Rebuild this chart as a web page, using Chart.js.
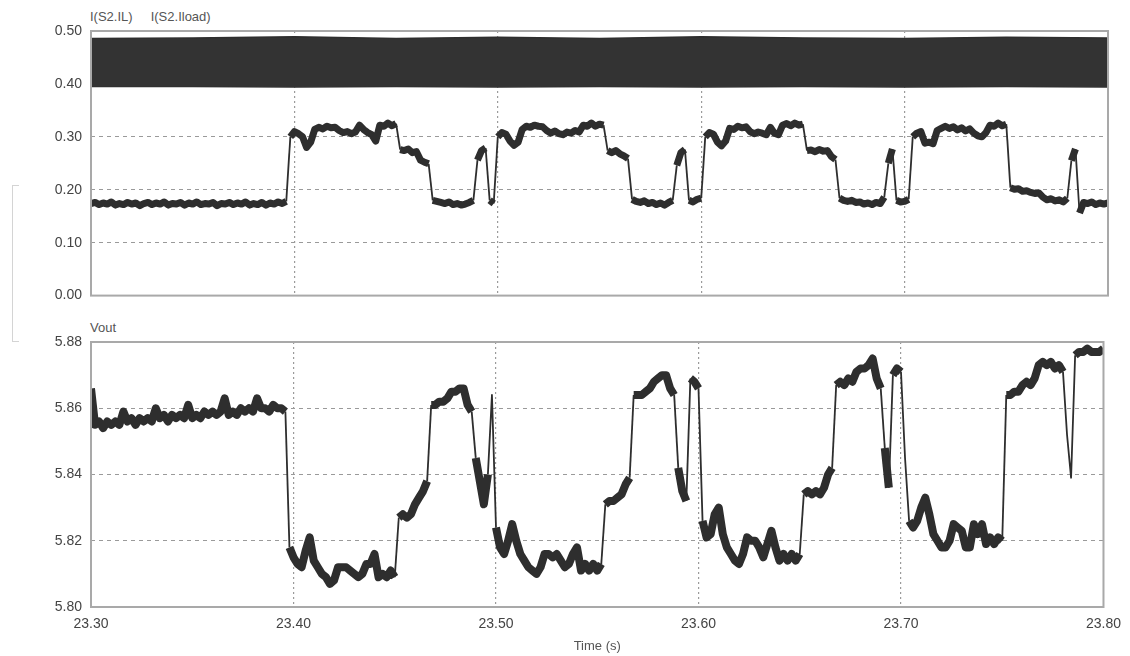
<!DOCTYPE html>
<html>
<head>
<meta charset="utf-8">
<script src="https://cdn.jsdelivr.net/npm/chart.js@4/dist/chart.umd.min.js"></script>
<style>
    body { margin: 0; background: #fff; width: 1130px; height: 656px; overflow: hidden; position: relative; font-family: 'Liberation Sans', Arial, sans-serif; }
    canvas { position: absolute; left: 0; }
    #currents { top: 0; }
    #voltage { top: 311px; }
    .caption { position: absolute; font-size: 13px; color: #555; white-space: pre; }
    .bracket { position: absolute; left: 12px; top: 185px; width: 6px; height: 155px; border: 1.5px solid #d4d4d4; border-right: none; }
</style>
</head>
<body>
<div class="caption" style="left:90px;top:9px">I(S2.IL)     I(S2.Iload)</div>
<div class="caption" style="left:90px;top:320px">Vout</div>
<div class="bracket"></div>
<canvas id="currents" width="1130" height="313"></canvas>
<canvas id="voltage" width="1130" height="345"></canvas>
<script>
// time axis
const timeTicks = [23.30, 23.40, 23.50, 23.60, 23.70, 23.80]
const currentTicks = [0.00, 0.10, 0.20, 0.30, 0.40, 0.50]
const voltTicks = [5.80, 5.82, 5.84, 5.86, 5.88]

// I(S2.IL) switching ripple, drawn as its envelope
const ilTime = [23.30, 23.35, 23.40, 23.45, 23.50, 23.55, 23.60, 23.65, 23.70, 23.75, 23.80]
const ilHigh = [0.486, 0.487, 0.489, 0.486, 0.488, 0.486, 0.489, 0.487, 0.486, 0.488, 0.487]
const ilLow = [0.395, 0.395, 0.394, 0.395, 0.394, 0.395, 0.394, 0.395, 0.394, 0.395, 0.394]

// samples every 2 ms from 23.30 s
const sampleStart = 23.30
const sampleStep = 0.002

// I(S2.Iload)
const iloadValues = [
    0.174, 0.176, 0.172, 0.175, 0.173, 0.177, 0.171, 0.174, 0.172, 0.176,
    0.173, 0.175, 0.170, 0.174, 0.176, 0.172, 0.175, 0.173, 0.177, 0.171,
    0.174, 0.173, 0.176, 0.171, 0.175, 0.173, 0.177, 0.172, 0.174, 0.173,
    0.176, 0.170, 0.174, 0.173, 0.176, 0.172, 0.175, 0.173, 0.177, 0.171,
    0.174, 0.172, 0.176, 0.171, 0.175, 0.173, 0.177, 0.174, 0.178, 0.300,
    0.310, 0.306, 0.300, 0.280, 0.290, 0.314, 0.318, 0.315, 0.320, 0.317,
    0.318, 0.312, 0.308, 0.310, 0.306, 0.309, 0.322, 0.314, 0.308, 0.304,
    0.292, 0.322, 0.320, 0.326, 0.321, 0.325, 0.276, 0.274, 0.277, 0.270,
    0.272, 0.256, 0.252, 0.249, 0.180, 0.178, 0.176, 0.174, 0.177, 0.172,
    0.174, 0.171, 0.173, 0.176, 0.180, 0.256, 0.274, 0.279, 0.180, 0.174,
    0.300, 0.308, 0.305, 0.292, 0.284, 0.290, 0.314, 0.320, 0.318, 0.322,
    0.320, 0.319, 0.312, 0.307, 0.311, 0.306, 0.304, 0.309, 0.307, 0.312,
    0.309, 0.322, 0.320, 0.326, 0.320, 0.324, 0.322, 0.274, 0.270, 0.274,
    0.268, 0.264, 0.259, 0.182, 0.178, 0.176, 0.179, 0.174, 0.176, 0.172,
    0.175, 0.171, 0.176, 0.180, 0.246, 0.270, 0.276, 0.180, 0.177, 0.182,
    0.184, 0.300, 0.308, 0.305, 0.290, 0.283, 0.292, 0.316, 0.314, 0.320,
    0.317, 0.319, 0.310, 0.306, 0.309, 0.307, 0.304, 0.318, 0.307, 0.304,
    0.322, 0.325, 0.321, 0.326, 0.322, 0.324, 0.274, 0.275, 0.272, 0.276,
    0.273, 0.274, 0.263, 0.257, 0.184, 0.180, 0.178, 0.180, 0.176, 0.177,
    0.173, 0.175, 0.172, 0.176, 0.174, 0.186, 0.250, 0.277, 0.180, 0.177,
    0.178, 0.182, 0.300, 0.307, 0.310, 0.288, 0.290, 0.287, 0.312, 0.316,
    0.320, 0.316, 0.319, 0.313, 0.317, 0.311, 0.315, 0.307, 0.302, 0.300,
    0.308, 0.322, 0.320, 0.326, 0.321, 0.324, 0.204, 0.201, 0.202, 0.197,
    0.198, 0.195, 0.193, 0.194, 0.186, 0.181, 0.183, 0.179, 0.181, 0.177,
    0.184, 0.255, 0.277, 0.156, 0.176, 0.174, 0.177, 0.172, 0.175, 0.173,
    0.175
]

// Vout
const voutValues = [
    5.866, 5.855, 5.856, 5.854, 5.856, 5.855, 5.856, 5.855, 5.859, 5.856,
    5.857, 5.855, 5.857, 5.856, 5.857, 5.856, 5.860, 5.857, 5.858, 5.856,
    5.858, 5.857, 5.858, 5.857, 5.861, 5.857, 5.858, 5.857, 5.859, 5.858,
    5.859, 5.858, 5.859, 5.863, 5.858, 5.859, 5.858, 5.860, 5.859, 5.860,
    5.859, 5.863, 5.860, 5.860, 5.859, 5.861, 5.860, 5.860, 5.859, 5.818,
    5.815, 5.813, 5.812, 5.817, 5.821, 5.814, 5.812, 5.810, 5.809, 5.807,
    5.808, 5.812, 5.812, 5.812, 5.811, 5.810, 5.809, 5.810, 5.813, 5.813,
    5.816, 5.809, 5.810, 5.809, 5.811, 5.809, 5.827, 5.828, 5.827, 5.828,
    5.831, 5.833, 5.835, 5.838, 5.861, 5.861, 5.862, 5.862, 5.863, 5.865,
    5.865, 5.866, 5.866, 5.861, 5.859, 5.845, 5.838, 5.831, 5.840, 5.864,
    5.824, 5.818, 5.816, 5.820, 5.825, 5.820, 5.816, 5.814, 5.812, 5.811,
    5.810, 5.812, 5.816, 5.816, 5.815, 5.816, 5.814, 5.812, 5.813, 5.816,
    5.818, 5.811, 5.813, 5.811, 5.813, 5.811, 5.813, 5.831, 5.832, 5.832,
    5.833, 5.834, 5.837, 5.839, 5.864, 5.864, 5.864, 5.865, 5.866, 5.868,
    5.869, 5.870, 5.870, 5.866, 5.864, 5.842, 5.835, 5.832, 5.869, 5.868,
    5.866, 5.826, 5.821, 5.822, 5.828, 5.830, 5.822, 5.818, 5.816, 5.814,
    5.813, 5.816, 5.821, 5.820, 5.820, 5.818, 5.815, 5.819, 5.823, 5.818,
    5.814, 5.816, 5.814, 5.816, 5.814, 5.816, 5.834, 5.835, 5.834, 5.835,
    5.834, 5.836, 5.840, 5.842, 5.867, 5.868, 5.867, 5.869, 5.868, 5.871,
    5.872, 5.872, 5.873, 5.875, 5.869, 5.866, 5.848, 5.836, 5.870, 5.872,
    5.871, 5.845, 5.826, 5.824, 5.826, 5.830, 5.833, 5.828, 5.822, 5.820,
    5.818, 5.818, 5.820, 5.825, 5.824, 5.823, 5.818, 5.818, 5.825, 5.822,
    5.825, 5.819, 5.821, 5.819, 5.821, 5.820, 5.864, 5.864, 5.865, 5.865,
    5.867, 5.868, 5.867, 5.869, 5.873, 5.874, 5.873, 5.874, 5.872, 5.873,
    5.871, 5.852, 5.839, 5.876, 5.877, 5.877, 5.878, 5.877, 5.877, 5.877,
    5.878
]

const traceColor = '#2e2e2e'
const gridColor = '#9a9a9a'
const tickFont = { family: "'Liberation Sans', Arial, sans-serif", size: 14 }

const toSamples = values => values.map((y, i) => ({ x: sampleStart + i * sampleStep, y }))
const toPairs = (times, values) => times.map((x, i) => ({ x, y: values[i] }))
const fixedTicks = list => scale => { scale.ticks = list.map(value => ({ value })) }
// no grid line on the frame edges
const innerGrid = list => ctx => (ctx.index === 0 || ctx.index === list.length - 1) ? 'rgba(0,0,0,0)' : gridColor
// thin line on the steps, thick noisy band elsewhere
const bandWidth = (jump, wide) => ctx => Math.abs(ctx.p1.parsed.y - ctx.p0.parsed.y) > jump ? 1.8 : wide

const frame = {
    id: 'frame',
    afterDatasetsDraw(chart) {
        const { ctx, chartArea: { left, top, width, height } } = chart
        ctx.save()
        ctx.strokeStyle = '#a9a9a9'
        ctx.lineWidth = 2
        ctx.strokeRect(left, top, width, height)
        ctx.restore()
    }
}

const timeAxis = (showLabels) => ({
    type: 'linear',
    min: 23.30,
    max: 23.80,
    afterBuildTicks: fixedTicks(timeTicks),
    ticks: {
        display: showLabels,
        font: tickFont,
        color: '#444',
        padding: 9,
        maxRotation: 0,
        callback: v => v.toFixed(2)
    },
    grid: { color: innerGrid(timeTicks), lineWidth: 1.2, drawTicks: false },
    border: { display: false, dash: [2, 3] }
})

const valueAxis = (min, max, list) => ({
    min,
    max,
    afterBuildTicks: fixedTicks(list),
    afterFit: scale => { scale.width = 91 },
    ticks: { font: tickFont, color: '#444', padding: 9, callback: v => v.toFixed(2) },
    grid: { color: innerGrid(list), lineWidth: 1, drawTicks: false },
    border: { display: false, dash: [4, 4] }
})

const trace = (label, values, jump, wide) => ({
    label,
    data: toSamples(values),
    borderColor: traceColor,
    pointRadius: 0,
    borderJoinStyle: 'round',
    borderCapStyle: 'butt',
    fill: false,
    segment: { borderWidth: bandWidth(jump, wide) }
})

new Chart(document.getElementById('currents'), {
    type: 'line',
    data: {
        datasets: [
            {
                label: 'I(S2.IL)',
                data: toPairs(ilTime, ilHigh),
                borderColor: traceColor,
                backgroundColor: '#333',
                borderWidth: 1.5,
                pointRadius: 0,
                fill: '+1'
            },
            {
                label: 'I(S2.IL) low',
                data: toPairs(ilTime, ilLow),
                borderColor: traceColor,
                borderWidth: 1.5,
                pointRadius: 0,
                fill: false
            },
            trace('I(S2.Iload)', iloadValues, 0.04, 7)
        ]
    },
    options: {
        responsive: false,
        animation: false,
        layout: { padding: { top: 31, right: 22, bottom: 6, left: 0 } },
        plugins: { legend: { display: false }, tooltip: { enabled: false } },
        scales: {
            x: { ...timeAxis(false), afterFit: scale => { scale.height = 0 } },
            y: valueAxis(0, 0.5, currentTicks)
        }
    },
    plugins: [frame]
})

new Chart(document.getElementById('voltage'), {
    type: 'line',
    data: {
        datasets: [trace('Vout', voutValues, 0.012, 8)]
    },
    options: {
        responsive: false,
        animation: false,
        layout: { padding: { top: 31, right: 22, bottom: 0, left: 0 } },
        plugins: { legend: { display: false }, tooltip: { enabled: false } },
        scales: {
            x: {
                ...timeAxis(true),
                afterFit: scale => { scale.height = 49 },
                title: {
                    display: true,
                    text: 'Time (s)',
                    color: '#555',
                    font: { family: "'Liberation Sans', Arial, sans-serif", size: 13 },
                    padding: { top: 0, bottom: 2 }
                }
            },
            y: valueAxis(5.80, 5.88, voltTicks)
        }
    },
    plugins: [frame]
})
</script>
</body>
</html>
